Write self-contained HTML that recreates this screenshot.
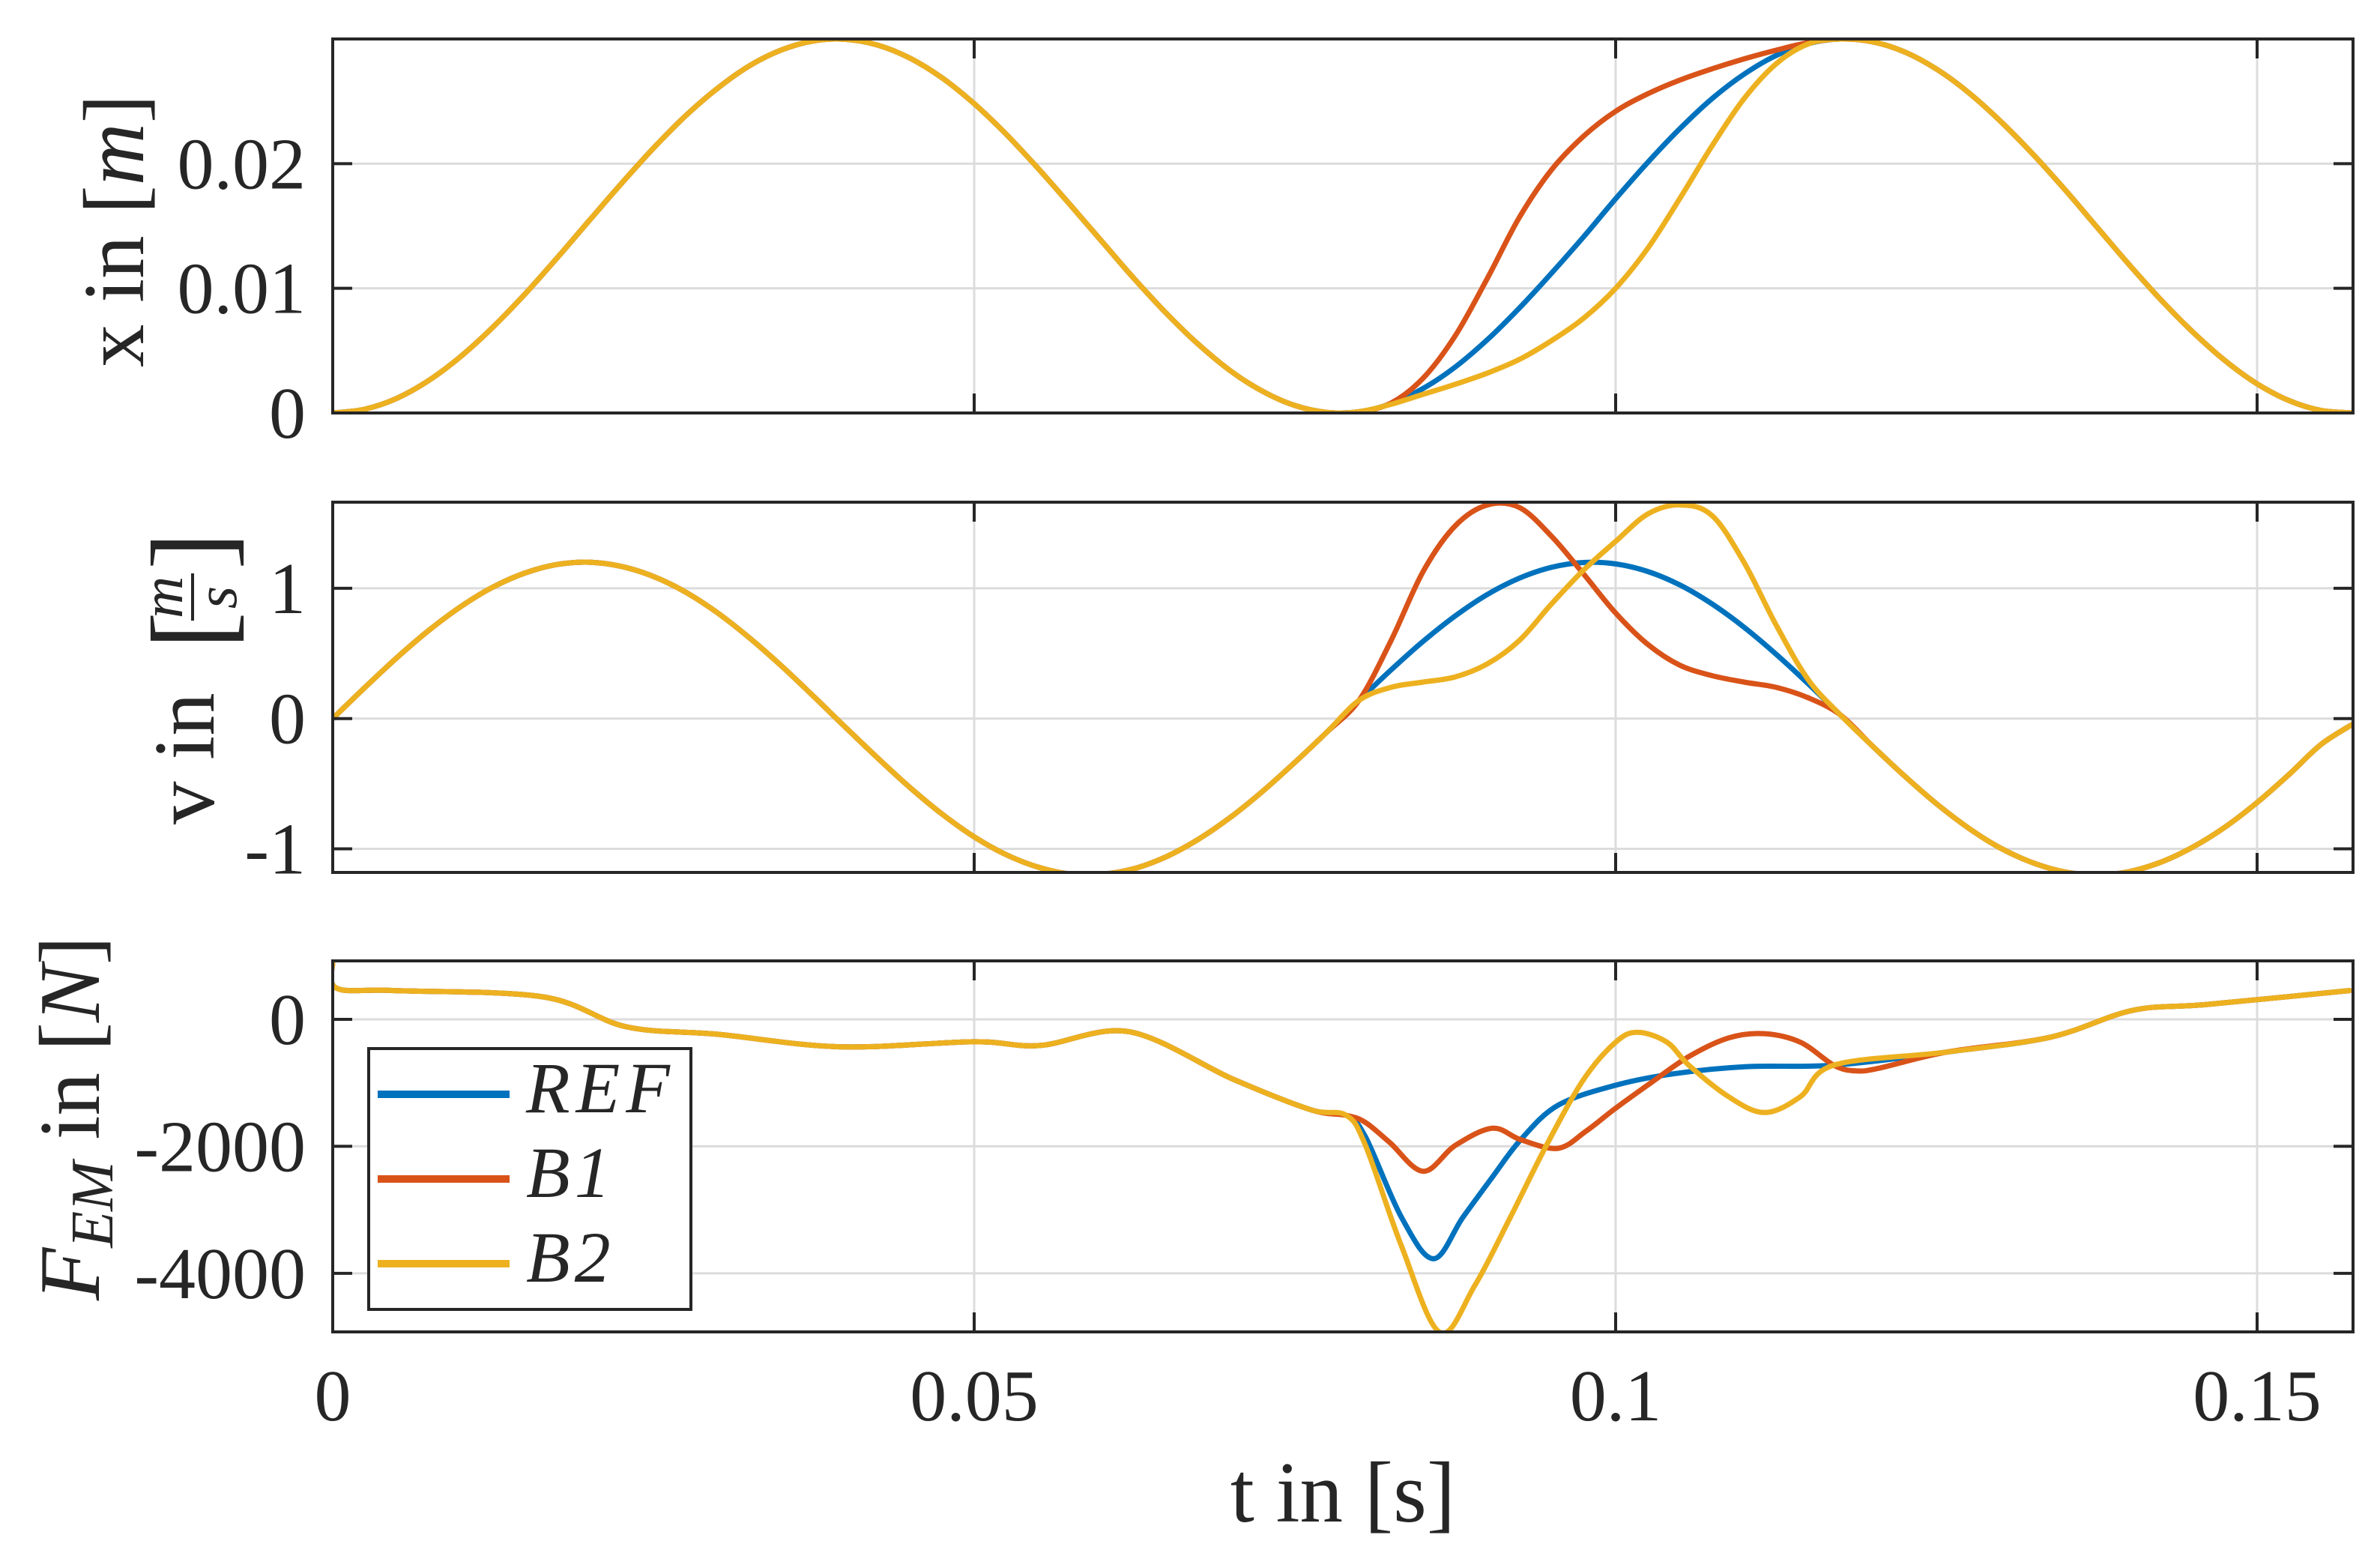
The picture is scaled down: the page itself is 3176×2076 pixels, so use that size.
<!DOCTYPE html>
<html><head><meta charset="utf-8">
<style>
html,body{margin:0;padding:0;background:#fff;}
svg{display:block;}
text{font-family:"Liberation Serif","DejaVu Serif",serif;fill:#262626;}
</style></head>
<body>
<svg id="chart" xmlns="http://www.w3.org/2000/svg" width="3176" height="2076" viewBox="0 0 3176 2076">
  <defs>
    <clipPath id="clip1"><rect x="444" y="52" width="2696" height="499"/></clipPath>
    <clipPath id="clip2"><rect x="444" y="670" width="2696" height="494"/></clipPath>
    <clipPath id="clip3"><rect x="444" y="1282" width="2696" height="495"/></clipPath>
  </defs>
  <g id="grids"></g>
  <g id="series"></g>
  <g id="axesFrames"></g>
  <g id="labels"></g>
  <g transform="translate(191,308) rotate(-90)">
    <text x="0" y="0" font-size="115" text-anchor="middle">x in [<tspan font-style="italic">m</tspan>]</text>
  </g>
  <g transform="translate(285,918) rotate(-90)">
    <text x="-182" y="0" font-size="115">v in</text>
    <text x="52" y="20" font-size="150">[</text>
    <text x="121" y="-42" font-size="78" font-style="italic" text-anchor="middle">m</text>
    <line x1="90" y1="-28" x2="153" y2="-28" stroke="#262626" stroke-width="4"/>
    <text x="121" y="30" font-size="78" font-style="italic" text-anchor="middle">s</text>
    <text x="158" y="20" font-size="150">]</text>
  </g>
  <g transform="translate(132,1735) rotate(-90)">
    <text x="0" y="0" font-size="115"><tspan font-style="italic">F</tspan><tspan font-style="italic" font-size="80" dy="18">EM</tspan><tspan dy="-18"> in [</tspan><tspan font-style="italic">N</tspan>]</text>
  </g>
  <text x="1792" y="2030" font-size="115" text-anchor="middle">t in [s]</text>
  <g>
    <rect x="492" y="1399" width="430" height="348" fill="#fff" stroke="#262626" stroke-width="4"/>
    <g>
      <line x1="504" y1="1460" x2="680" y2="1460" stroke="#0072BD" stroke-width="10"/>
      <text x="702" y="1484" font-size="96" font-style="italic" letter-spacing="8">REF</text>
    </g>
    <g>
      <line x1="504" y1="1573" x2="680" y2="1573" stroke="#D95319" stroke-width="10"/>
      <text x="702" y="1597" font-size="96" font-style="italic" letter-spacing="6">B1</text>
    </g>
    <g>
      <line x1="504" y1="1686" x2="680" y2="1686" stroke="#EDB120" stroke-width="10"/>
      <text x="702" y="1710" font-size="96" font-style="italic" letter-spacing="6">B2</text>
    </g>
  </g>
</svg>
<script>
const tGrid = [0,0.0025,0.005,0.0075,0.01,0.0125,0.015,0.0175,0.02,0.0225,0.025,0.0275,0.03,0.0325,0.035,0.0375,0.04,0.0425,0.045,0.0475,0.05,0.0525,0.055,0.0575,0.06,0.0625,0.065,0.0675,0.07,0.0725,0.075,0.0775,0.08,0.0825,0.085,0.0875,0.09,0.0925,0.095,0.0975,0.1,0.1025,0.105,0.1075,0.11,0.1125,0.115,0.1175,0.12,0.1225,0.125,0.1275,0.13,0.1325,0.135,0.1375,0.14,0.1425,0.145,0.1475,0.15,0.1525,0.155,0.1575];
const xREF = [0,0.0003,0.00118,0.00262,0.00455,0.0069,0.00956,0.01245,0.01544,0.0184,0.02124,0.02383,0.02605,0.02786,0.02913,0.02985,0.02997,0.0295,0.02846,0.02688,0.02481,0.02235,0.0196,0.01668,0.0137,0.01074,0.00797,0.00548,0.00336,0.00173,0.0006,0.00005,0.0001,0.00075,0.00197,0.00369,0.00588,0.00842,0.01121,0.01413,0.01718,0.0201,0.0228,0.0252,0.02717,0.02867,0.02963,0.03,0.02978,0.02897,0.02759,0.02571,0.0234,0.02079,0.01794,0.01493,0.01193,0.00908,0.00648,0.0042,0.00234,0.00099,0.0002,0];
const xB1 = [0,0.0003,0.00118,0.00262,0.00455,0.0069,0.00956,0.01245,0.01544,0.0184,0.02124,0.02383,0.02605,0.02786,0.02913,0.02985,0.02997,0.0295,0.02846,0.02688,0.02481,0.02235,0.0196,0.01668,0.0137,0.01074,0.00797,0.00548,0.00336,0.00173,0.0006,0.00005,0.0001,0.0008,0.0028,0.0062,0.0108,0.0157,0.0195,0.0222,0.0242,0.0256,0.0267,0.0276,0.0284,0.0291,0.0297,0.03,0.02978,0.02897,0.02759,0.02571,0.0234,0.02079,0.01794,0.01493,0.01193,0.00908,0.00648,0.0042,0.00234,0.00099,0.0002,0];
const xB2 = [0,0.0003,0.00118,0.00262,0.00455,0.0069,0.00956,0.01245,0.01544,0.0184,0.02124,0.02383,0.02605,0.02786,0.02913,0.02985,0.02997,0.0295,0.02846,0.02688,0.02481,0.02235,0.0196,0.01668,0.0137,0.01074,0.00797,0.00548,0.00336,0.00173,0.0006,0.00005,0.0001,0.0007,0.0015,0.0023,0.0032,0.0043,0.0058,0.0076,0.0100,0.0132,0.0172,0.0214,0.0252,0.028,0.0296,0.03,0.02978,0.02897,0.02759,0.02571,0.0234,0.02079,0.01794,0.01493,0.01193,0.00908,0.00648,0.0042,0.00234,0.00099,0.0002,0];
const vREF = [0,0.238,0.467,0.678,0.861,1.010,1.118,1.183,1.200,1.168,1.091,0.971,0.811,0.618,0.402,0.169,-0.070,-0.305,-0.530,-0.733,-0.908,-1.045,-1.141,-1.193,-1.195,-1.151,-1.059,-0.925,-0.756,-0.557,-0.336,-0.103,0.140,0.374,0.593,0.788,0.953,1.078,1.161,1.198,1.187,1.129,1.026,0.881,0.702,0.495,0.268,0.030,-0.209,-0.439,-0.653,-0.840,-0.994,-1.106,-1.177,-1.2,-1.175,-1.102,-0.986,-0.833,-0.644,-0.428,-0.197,-0.04];
const vB1 = [0,0.238,0.467,0.678,0.861,1.010,1.118,1.183,1.200,1.168,1.091,0.971,0.811,0.618,0.402,0.169,-0.070,-0.305,-0.530,-0.733,-0.908,-1.045,-1.141,-1.193,-1.195,-1.151,-1.059,-0.925,-0.756,-0.557,-0.336,-0.103,0.140,0.60,1.13,1.48,1.64,1.62,1.40,1.11,0.81,0.57,0.41,0.33,0.28,0.24,0.16,0.030,-0.209,-0.439,-0.653,-0.840,-0.994,-1.106,-1.177,-1.2,-1.175,-1.102,-0.986,-0.833,-0.644,-0.428,-0.197,-0.04];
const vB2 = [0,0.238,0.467,0.678,0.861,1.010,1.118,1.183,1.200,1.168,1.091,0.971,0.811,0.618,0.402,0.169,-0.070,-0.305,-0.530,-0.733,-0.908,-1.045,-1.141,-1.193,-1.195,-1.151,-1.059,-0.925,-0.756,-0.557,-0.336,-0.103,0.140,0.24,0.28,0.32,0.42,0.60,0.88,1.14,1.36,1.57,1.64,1.56,1.20,0.72,0.30,0.030,-0.209,-0.439,-0.653,-0.840,-0.994,-1.106,-1.177,-1.2,-1.175,-1.102,-0.986,-0.833,-0.644,-0.428,-0.197,-0.04];
const fTimeREF = [0,0.0003,0.0048,0.0164,0.0229,0.030,0.0395,0.05,0.0551,0.0621,0.0702,0.0762,0.079,0.0805,0.0833,0.0858,0.0881,0.0904,0.0926,0.0955,0.1,0.1045,0.1102,0.117,0.1258,0.1339,0.1403,0.1461,0.1572];
const fREF = [900,490,453,354,-118,-236,-433,-354,-413,-197,-945,-1422,-1512,-1851,-3115,-3770,-3115,-2483,-1896,-1354,-1038,-858,-745,-722,-516,-281,141,234,453];
const fTimeB1 = [0,0.0003,0.0048,0.0164,0.0229,0.030,0.0395,0.05,0.0551,0.0621,0.0702,0.0762,0.079,0.0805,0.0824,0.085,0.0875,0.0904,0.0926,0.0955,0.0977,0.1,0.1028,0.1057,0.1088,0.1116,0.1144,0.117,0.1187,0.1206,0.1258,0.1339,0.1403,0.1461,0.1572];
const fB1 = [900,490,453,354,-118,-236,-433,-354,-413,-197,-945,-1422,-1512,-1625,-1941,-2393,-1986,-1715,-1896,-2032,-1760,-1400,-993,-587,-293,-226,-361,-722,-813,-767,-516,-281,141,234,453];
const fTimeB2 = [0,0.0003,0.0048,0.0164,0.0229,0.030,0.0395,0.05,0.0551,0.0621,0.0702,0.0762,0.079,0.0805,0.0833,0.0863,0.089,0.0918,0.0946,0.0975,0.1,0.1017,0.104,0.1057,0.1088,0.1116,0.1144,0.117,0.1258,0.1339,0.1403,0.1461,0.1572];
const fB2 = [900,490,453,354,-118,-236,-433,-354,-413,-197,-945,-1422,-1512,-1986,-3567,-4930,-4199,-3115,-1986,-948,-361,-203,-361,-722,-1219,-1467,-1219,-722,-516,-281,141,234,453];
const xTicks = [0,0.05,0.1,0.15];
const xTickLabels = ["0","0.05","0.1","0.15"];
const p1Ticks = [0,0.01,0.02];
const p1TickLabels = ["0","0.01","0.02"];
const p2Ticks = [-1,0,1];
const p2TickLabels = ["-1","0","1"];
const p3Ticks = [-4000,-2000,0];
const p3TickLabels = ["-4000","-2000","0"];

const NS = "http://www.w3.org/2000/svg";
const L = 444, R = 3140;
const T0 = 0, T1 = (R - L) / 17120;
const panels = [
  {name:"position", top:52, bot:551, ymin:0, ymax:0.03, ticks:p1Ticks, labels:p1TickLabels, clip:"clip1"},
  {name:"velocity", top:670, bot:1164, ymin:-1.181, ymax:1.661, ticks:p2Ticks, labels:p2TickLabels, clip:"clip2"},
  {name:"force", top:1282, bot:1777, ymin:-4922, ymax:920, ticks:p3Ticks, labels:p3TickLabels, clip:"clip3"}
];
function xs(t){ return L + (t - T0) / (T1 - T0) * (R - L); }
function ys(p, v){ return p.bot - (v - p.ymin) / (p.ymax - p.ymin) * (p.bot - p.top); }
function mk(tag, attrs, parent){
  const e = document.createElementNS(NS, tag);
  for (const k in attrs) e.setAttribute(k, attrs[k]);
  parent.appendChild(e);
  return e;
}
function smoothPath(pts){
  let d = "M" + pts[0][0].toFixed(1) + "," + pts[0][1].toFixed(1);
  for (let i = 0; i < pts.length - 1; i++){
    const p0 = pts[Math.max(0, i-1)], p1 = pts[i], p2 = pts[i+1], p3 = pts[Math.min(pts.length-1, i+2)];
    const c1x = p1[0] + (p2[0]-p0[0])/6, c1y = p1[1] + (p2[1]-p0[1])/6;
    const c2x = p2[0] - (p3[0]-p1[0])/6, c2y = p2[1] - (p3[1]-p1[1])/6;
    d += "C" + c1x.toFixed(1) + "," + c1y.toFixed(1) + " " + c2x.toFixed(1) + "," + c2y.toFixed(1) + " " + p2[0].toFixed(1) + "," + p2[1].toFixed(1);
  }
  return d;
}

const gGrid = document.getElementById("grids");
const gSeries = document.getElementById("series");
const gFrames = document.getElementById("axesFrames");
const gLabels = document.getElementById("labels");
const colors = {REF:"#0072BD", B1:"#D95319", B2:"#EDB120"};

const seriesData = [
  [{k:"REF", t:tGrid, y:xREF}, {k:"B1", t:tGrid, y:xB1}, {k:"B2", t:tGrid, y:xB2}],
  [{k:"REF", t:tGrid, y:vREF}, {k:"B1", t:tGrid, y:vB1}, {k:"B2", t:tGrid, y:vB2}],
  [{k:"REF", t:fTimeREF, y:fREF}, {k:"B1", t:fTimeB1, y:fB1}, {k:"B2", t:fTimeB2, y:fB2}]
];

panels.forEach((p, pi) => {
  xTicks.forEach(t => {
    const gl = mk("line", {x1:xs(t), x2:xs(t), y1:p.top, y2:p.bot, stroke:"#dcdcdc", "stroke-width":3}, gGrid);
    
    
  });
  p.ticks.forEach(v => {
    const gl = mk("line", {x1:L, x2:R, y1:ys(p,v), y2:ys(p,v), stroke:"#dcdcdc", "stroke-width":3}, gGrid);
    
    
  });
  const g = mk("g", {"clip-path":"url(#" + p.clip + ")"}, gSeries);
  
  
  seriesData[pi].forEach(s => {
    const pts = s.t.map((t, i) => [xs(t), ys(p, s.y[i])]);
    const path = mk("path", {d:smoothPath(pts), fill:"none", stroke:colors[s.k], "stroke-width":7, "stroke-linejoin":"round", "stroke-linecap":"round"}, g);
    
    
  });
  const fr = mk("rect", {x:L, y:p.top, width:R-L, height:p.bot-p.top, fill:"none", stroke:"#262626", "stroke-width":4}, gFrames);
  
  
  xTicks.forEach(t => {
    const a = mk("line", {x1:xs(t), x2:xs(t), y1:p.bot, y2:p.bot-26, stroke:"#262626", "stroke-width":4}, gFrames);
    
    
    const b = mk("line", {x1:xs(t), x2:xs(t), y1:p.top, y2:p.top+26, stroke:"#262626", "stroke-width":4}, gFrames);
    
    
  });
  p.ticks.forEach((v, i) => {
    const a = mk("line", {x1:L, x2:L+26, y1:ys(p,v), y2:ys(p,v), stroke:"#262626", "stroke-width":4}, gFrames);
    
    
    const b = mk("line", {x1:R, x2:R-26, y1:ys(p,v), y2:ys(p,v), stroke:"#262626", "stroke-width":4}, gFrames);
    
    
    const tx = mk("text", {x:408, y:ys(p,v)+33, "font-size":98, "text-anchor":"end"}, gLabels);
    tx.textContent = p.labels[i];
    
    
  });
});
xTicks.forEach((t, i) => {
  const tx = mk("text", {x:xs(t), y:1895, "font-size":98, "text-anchor":"middle"}, gLabels);
  tx.textContent = xTickLabels[i];
  
  
});
</script>
</body></html>
